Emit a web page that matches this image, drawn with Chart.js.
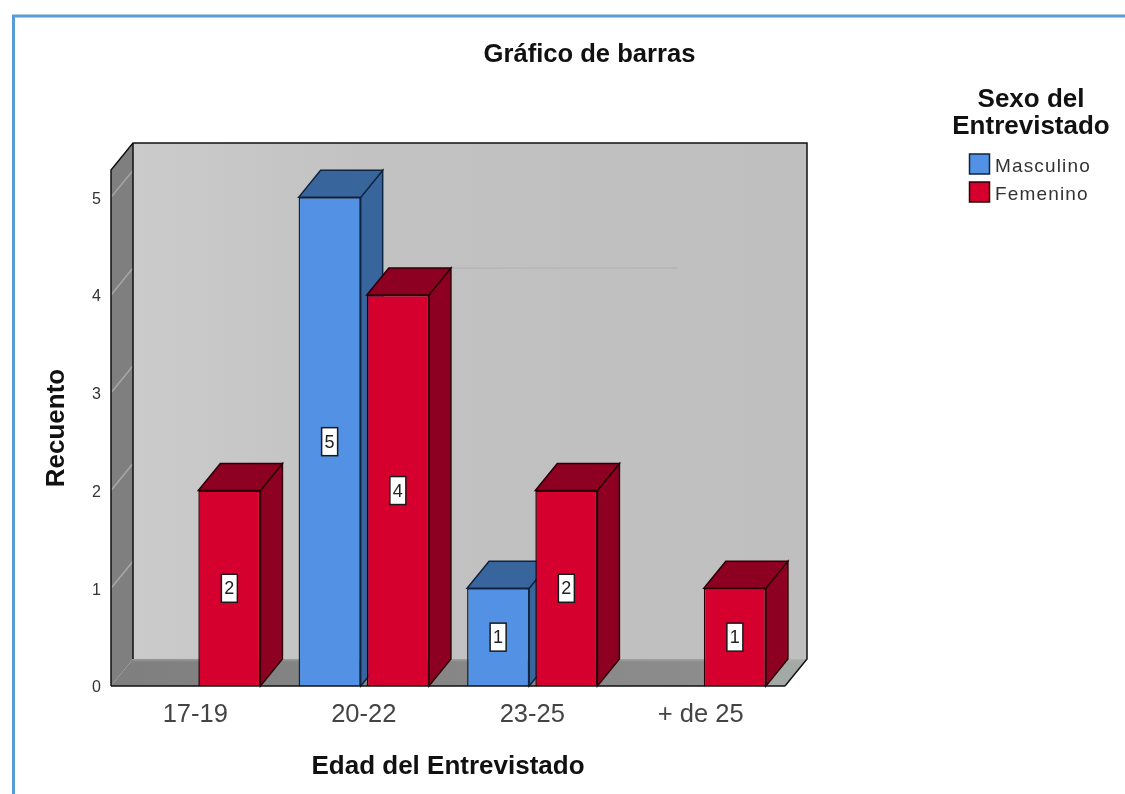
<!DOCTYPE html>
<html><head><meta charset="utf-8">
<style>html,body{margin:0;padding:0;background:#fff}#w{width:1125px;height:794px}</style>
<script src="https://cdn.jsdelivr.net/npm/chart.js@4/dist/chart.umd.min.js"></script>
</head><body><div id="w"><canvas id="c" width="1125" height="794"></canvas></div>
<script>
const categories = ['17-19', '20-22', '23-25', '+ de 25'];
const masculino = [null, 5, 1, null];
const femenino = [2, 4, 2, 1];
const yTicks = [0, 1, 2, 3, 4, 5];
const seriesNames = ['Masculino', 'Femenino'];
const chartTitle = 'Gráfico de barras';
const legendTitle = ['Sexo del', 'Entrevistado'];
const xTitle = 'Edad del Entrevistado';
const yTitle = 'Recuento';

const FONT = '"Liberation Sans", Arial, sans-serif';
const DX = 22, DY = -27;
const palette = [
  {front:'#5291e4', side:'#38659c', top:'#38659c', line:'#10233f'},
  {front:'#d6002f', side:'#8d0022', top:'#8d0022', line:'#2a0006'}
];
function poly(ctx, pts, fill, stroke, lw){
  ctx.beginPath();
  pts.forEach((p,i)=> i?ctx.lineTo(p[0],p[1]):ctx.moveTo(p[0],p[1]));
  ctx.closePath();
  if(fill){ctx.fillStyle=fill;ctx.fill();}
  if(stroke){ctx.strokeStyle=stroke;ctx.lineWidth=lw||1.5;ctx.stroke();}
}
const scene = {
  id:'scene',
  beforeDraw(chart){
    const c=chart.ctx; c.save();
    c.fillStyle='#fff'; c.fillRect(0,0,chart.width,chart.height);
    c.strokeStyle='#5b9bd5'; c.lineWidth=3;
    c.beginPath(); c.moveTo(1125,16); c.lineTo(13.5,16); c.lineTo(13.5,794); c.stroke();
    c.restore();
  },
  beforeDatasetsDraw(chart){
    const c=chart.ctx, a=chart.chartArea, y=chart.scales.y; c.save();
    const l=a.left,r=a.right,t=a.top,b=a.bottom;
    // back wall
    const g=c.createLinearGradient(l+DX,0,r+DX,0);
    g.addColorStop(0,'#cbcbcb'); g.addColorStop(.35,'#c2c2c2'); g.addColorStop(1,'#bfbfbf');
    poly(c,[[l+DX,t+DY],[r+DX,t+DY],[r+DX,b+DY],[l+DX,b+DY]],g);
    // floor
    const f=c.createLinearGradient(l,0,r+DX,0);
    f.addColorStop(0,'#7f7f7f'); f.addColorStop(.85,'#8c8c8c'); f.addColorStop(.95,'#a3aaa6'); f.addColorStop(1,'#a3aaa6');
    poly(c,[[l,b],[l+DX,b+DY],[r+DX,b+DY],[r,b]],f);
    // soft edge between wall and floor
    const e=c.createLinearGradient(0,b+DY-3,0,b+DY+3);
    e.addColorStop(0,'rgba(192,192,192,0)'); e.addColorStop(.5,'rgba(192,192,192,.45)'); e.addColorStop(1,'rgba(192,192,192,0)');
    c.fillStyle=e; c.fillRect(l+DX,b+DY-3,r-l,6);
    // left wall
    poly(c,[[l,t],[l+DX,t+DY],[l+DX,b+DY],[l,b]],'#7f7f7f');
    // gridlines on the left wall, and the faint one on the back wall
    c.strokeStyle='#a8a8a8'; c.lineWidth=1.5;
    yTicks.slice(1).forEach(v=>{const p=y.getPixelForValue(v);
      c.beginPath();c.moveTo(l,p);c.lineTo(l+DX,p+DY);c.stroke();});
    const p4=y.getPixelForValue(4)+DY;
    c.strokeStyle='#b0b0b0'; c.lineWidth=1;
    c.beginPath();c.moveTo(x4(chart),p4);c.lineTo(l+(r-l)*0.84,p4);c.stroke();
    // outlines
    c.strokeStyle='#111'; c.lineWidth=1.5;
    c.beginPath();
    c.moveTo(l,b);c.lineTo(l,t);c.lineTo(l+DX,t+DY);c.lineTo(r+DX,t+DY);c.lineTo(r+DX,b+DY);c.lineTo(r,b);
    c.moveTo(l+DX,t+DY);c.lineTo(l+DX,b+DY);
    c.stroke();
    // depth faces of every bar
    chart.data.datasets.forEach((ds,di)=>{
      chart.getDatasetMeta(di).data.forEach((el,i)=>{
        if(ds.data[i]==null) return;
        const p=palette[di], x0=el.x-el.width/2, x1=el.x+el.width/2, yt=el.y, yb=el.base;
        poly(c,[[x1,yb],[x1+DX,yb+DY],[x1+DX,yt+DY],[x1,yt]],p.side,p.line,1.5);
        poly(c,[[x0,yt],[x0+DX,yt+DY],[x1+DX,yt+DY],[x1,yt]],p.top,p.line,1.5);
      });
    });
    c.restore();
  },
  afterDatasetsDraw(chart){
    const c=chart.ctx, a=chart.chartArea; c.save();
    // front floor edge
    c.strokeStyle='#111'; c.lineWidth=1.5;
    c.beginPath();c.moveTo(a.left,a.bottom);c.lineTo(a.right,a.bottom);c.stroke();
    // value boxes
    chart.data.datasets.forEach((ds,di)=>{
      chart.getDatasetMeta(di).data.forEach((el,i)=>{
        if(ds.data[i]==null) return;
        const cx=el.x, cy=(el.y+el.base)/2, w=16, h=28;
        c.fillStyle='#fff'; c.fillRect(cx-w/2,cy-h/2,w,h);
        c.strokeStyle='#1a1a1a'; c.lineWidth=1.5; c.strokeRect(cx-w/2,cy-h/2,w,h);
        c.fillStyle='#222'; c.font='18px '+FONT; c.textAlign='center'; c.textBaseline='middle';
        c.fillText(String(ds.data[i]),cx,cy+1);
      });
    });
    // chart title
    c.fillStyle='#111'; c.textAlign='center'; c.textBaseline='middle';
    c.font='bold 25.6px '+FONT; c.fillText(chartTitle,589.5,55);
    // legend
    c.font='bold 26px '+FONT;
    legendTitle.forEach((t,i)=>c.fillText(t,1031,100+i*27));
    seriesNames.forEach((n,i)=>{
      const y0=154+i*28;
      c.fillStyle=palette[i].front; c.fillRect(969.5,y0,20,20);
      c.strokeStyle=palette[i].line; c.lineWidth=1.5; c.strokeRect(969.5,y0,20,20);
      c.fillStyle='#333'; c.textAlign='left'; c.font='19px '+FONT;
      if('letterSpacing' in c) c.letterSpacing='1.15px';
      c.fillText(n,995,y0+13);
      if('letterSpacing' in c) c.letterSpacing='0px';
    });
    c.restore();
  }
};
function x4(chart){
  const el=chart.getDatasetMeta(1).data[1];
  return el.x+el.width/2+DX;
}
new Chart(document.getElementById('c'),{
  type:'bar',
  data:{labels:categories,datasets:[
    {label:seriesNames[0],data:masculino,backgroundColor:palette[0].front,borderColor:palette[0].line,borderWidth:1.5},
    {label:seriesNames[1],data:femenino,backgroundColor:palette[1].front,borderColor:palette[1].line,borderWidth:1.5}
  ]},
  options:{
    responsive:false,animation:false,
    categoryPercentage:0.81,barPercentage:0.91,
    layout:{padding:{left:0,top:170,right:340,bottom:0}},
    plugins:{legend:{display:false},title:{display:false},tooltip:{enabled:false}},
    scales:{
      x:{
        grid:{display:false},border:{display:false},
        ticks:{color:'#444',font:{family:FONT,size:25.5},padding:6,maxRotation:0},
        title:{display:true,text:xTitle,color:'#111',font:{family:FONT,size:26,weight:'bold'},padding:{top:0,bottom:12}},
        afterFit(s){s.height=108;}
      },
      y:{
        min:0,max:5.28,
        afterBuildTicks(s){s.ticks=yTicks.map(v=>({value:v}));},
        grid:{display:false},border:{display:false},
        ticks:{color:'#333',font:{family:FONT,size:16},padding:2,labelOffset:2},
        title:{display:true,text:yTitle,color:'#111',font:{family:FONT,size:26,weight:'bold'},padding:{top:41,bottom:0}},
        afterFit(s){s.width=111;}
      }
    }
  },
  plugins:[scene]
});
</script></body></html>
